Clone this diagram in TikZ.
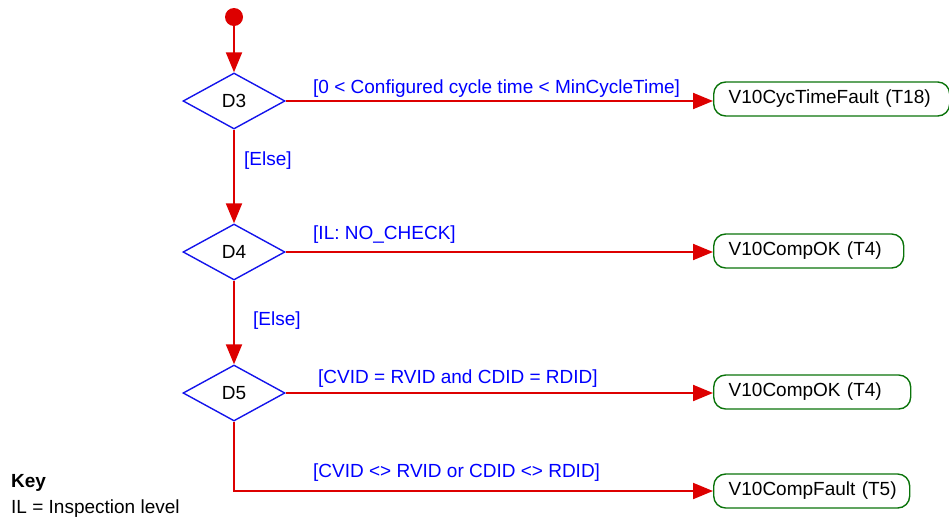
\documentclass[tikz,border=0pt]{standalone}
\usepackage{fontspec}
\setmainfont{Liberation Sans}
\usetikzlibrary{shapes.geometric,arrows.meta}
\definecolor{fred}{RGB}{221,0,0}
\definecolor{fblue}{RGB}{20,20,235}
\definecolor{fgreen}{RGB}{10,115,10}
\definecolor{lblue}{RGB}{0,0,255}
\tikzset{
  dec/.style={diamond, draw=fblue, line width=1.4pt, minimum width=102pt, minimum height=56pt, inner sep=0pt, font=\fontsize{19}{22}\selectfont},
  state/.style={draw=fgreen, line width=1.4pt, rounded corners=12pt, minimum height=34pt, inner xsep=15pt, inner ysep=0pt, align=left, font=\fontsize{19}{22}\selectfont, anchor=west},
  flow/.style={draw=fred, line width=2pt, -{Triangle[length=20pt,width=16pt]}},
  guard/.style={text=lblue, font=\fontsize{19}{22}\selectfont, anchor=base west, inner sep=0pt},
  keytext/.style={font=\fontsize{19}{22}\selectfont, anchor=base west, inner sep=0pt}
}
\begin{document}
\begin{tikzpicture}[x=1pt,y=-1pt]
\useasboundingbox (0,0) rectangle (949,520);
\node[circle, fill=fred, minimum size=18pt, inner sep=0pt] (start) at (234,17) {};
\node[dec] (d3) at (234,101) {D3};
\node[dec] (d4) at (234,252) {D4};
\node[dec] (d5) at (234,393) {D5};
\node[state, text width=206pt] (t18) at (713,99) {\mbox{V10CycTimeFault (T18)}};
\node[state, text width=160pt] (t4a) at (713,251) {\mbox{V10CompOK (T4)}};
\node[state, text width=167pt] (t4b) at (713,392) {\mbox{V10CompOK (T4)}};
\node[state, text width=166pt] (t5) at (713,491) {\mbox{V10CompFault (T5)}};
\coordinate (bend) at (234,491);
\draw[flow] (start) -- (d3.north);
\draw[flow] (d3.east) -- (d3.east -| t18.west);
\draw[flow] (d3.south) -- (d4.north);
\draw[flow] (d4.east) -- (d4.east -| t4a.west);
\draw[flow] (d4.south) -- (d5.north);
\draw[flow] (d5.east) -- (d5.east -| t4b.west);
\draw[flow] (d5.south) -- (bend) -- (t5.west);
\node[guard] (g1) at (313,93) {[0 < Configured cycle time < MinCycleTime]};
\node[guard] (g2) at (244,165) {[Else]};
\node[guard] (g3) at (313,239) {[IL: NO\_CHECK]};
\node[guard] (g4) at (253,325) {[Else]};
\node[guard] (g5) at (318,383) {[CVID = RVID and CDID = RDID]};
\node[guard] (g6) at (313,477) {[CVID <> RVID or CDID <> RDID]};
\node[keytext, font=\fontsize{19}{22}\selectfont\bfseries] (key) at (11,487) {Key};
\node[keytext] (keyil) at (11,513) {IL = Inspection level};
\end{tikzpicture}
\end{document}
